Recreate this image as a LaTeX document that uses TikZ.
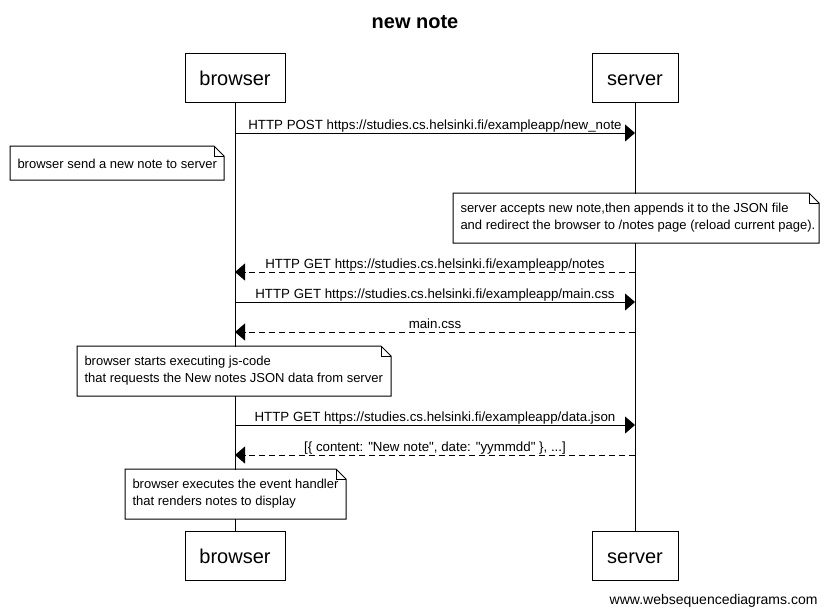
\documentclass[tikz,border=0pt]{standalone}
\usepackage{fontspec}
\setmainfont{Liberation Sans}[Ligatures=TeXOff]
\usetikzlibrary{arrows.meta}
\newcommand\drawnoteframe[1]{%
  \draw (#1.north west) -- ([xshift=-10pt]#1.north east) -- ([yshift=-10pt]#1.north east) -- (#1.south east) -- (#1.south west) -- cycle;
  \draw ([xshift=-10pt]#1.north east) -- ([xshift=-10pt,yshift=-10pt]#1.north east) -- ([yshift=-10pt]#1.north east);}
\newcommand\ls{\strut}
\begin{document}
\begin{tikzpicture}[x=1pt,y=1pt, line width=1pt,
  actor/.style={draw, fill=white, minimum width=#1, minimum height=49pt, inner sep=0pt, text height=15pt, text depth=0pt, font=\fontsize{20}{24}\selectfont},
  msg/.style={-{Triangle[length=10pt,width=17pt]}},
  reply/.style={msg, dash pattern=on 6pt off 4pt},
  msglabel/.style={anchor=base, font=\fontsize{13.3}{16}\selectfont, inner sep=0pt, yshift=4pt},
  noteframe/.style={anchor=north west, fill=white, inner sep=0pt},
  notetext/.style={anchor=north west, inner sep=0pt, align=left, font=\fontsize{13}{17}\selectfont},
  ]
\useasboundingbox (0,0) rectangle (827,-614);
\fill[white] (0,0) rectangle (827,-614);

\node[font=\bfseries\fontsize{20}{24}\selectfont] (title) at (415,-22) {new note};

\node[actor=100pt] (bt) at (235,-77.5) {browser};
\node[actor=86pt]  (st) at (635,-77.5) {server};
\node[actor=100pt] (bb) at (235,-555.5) {browser};
\node[actor=86pt]  (sb) at (635,-555.5) {server};

\draw (bt.south) -- (bb.north);
\draw (st.south) -- (sb.north);

\coordinate (b1) at (235,-133); \coordinate (s1) at (635,-133);
\coordinate (b3) at (235,-272); \coordinate (s3) at (635,-272);
\coordinate (b4) at (235,-302); \coordinate (s4) at (635,-302);
\coordinate (b5) at (235,-332); \coordinate (s5) at (635,-332);
\coordinate (b6) at (235,-425); \coordinate (s6) at (635,-425);
\coordinate (b7) at (235,-455); \coordinate (s7) at (635,-455);

\draw[msg] (b1) -- (s1) node[msglabel, midway] (m1) {HTTP POST https://studies.cs.helsinki.fi/exampleapp/new\_note};

\node[noteframe, minimum width=213pt, minimum height=33pt] (n1) at (10,-146) {};
\drawnoteframe{n1}
\node[notetext] (t1) at ([xshift=7pt,yshift=-9.8pt]n1.north west) {\ls browser send a new note to server};

\node[noteframe, minimum width=365pt, minimum height=49pt] (n2) at (453,-193) {};
\drawnoteframe{n2}
\node[notetext] (t2) at ([xshift=7pt,yshift=-6.6pt]n2.north west) {\ls server accepts new note,then appends it to the JSON file\\\ls and redirect the browser to /notes page (reload current page).};

\draw[reply] (s3) -- (b3) node[msglabel, midway] (m3) {HTTP GET https://studies.cs.helsinki.fi/exampleapp/notes};
\draw[msg] (b4) -- (s4) node[msglabel, midway] (m4) {HTTP GET https://studies.cs.helsinki.fi/exampleapp/main.css};
\draw[reply] (s5) -- (b5) node[msglabel, midway] (m5) {main.css};

\node[noteframe, minimum width=313pt, minimum height=49pt] (n3) at (77,-346) {};
\drawnoteframe{n3}
\node[notetext] (t3) at ([xshift=7pt,yshift=-7.3pt]n3.north west) {\ls browser starts executing js-code\\\ls that requests the New notes JSON data from server};

\draw[msg] (b6) -- (s6) node[msglabel, midway] (m6) {HTTP GET https://studies.cs.helsinki.fi/exampleapp/data.json};
\draw[reply] (s7) -- (b7) node[msglabel, midway] (m7) {[\{ content: "New note", date: "yymmdd" \}, ...]};

\node[noteframe, minimum width=220pt, minimum height=49pt] (n4) at (125,-469) {};
\drawnoteframe{n4}
\node[notetext] (t4) at ([xshift=7pt,yshift=-7.3pt]n4.north west) {\ls browser executes the event handler\\\ls that renders notes to display};

\node[anchor=base east, inner sep=0pt, font=\fontsize{14}{16}\selectfont] (wm) at (818,-604) {www.websequencediagrams.com};
\end{tikzpicture}
\end{document}
